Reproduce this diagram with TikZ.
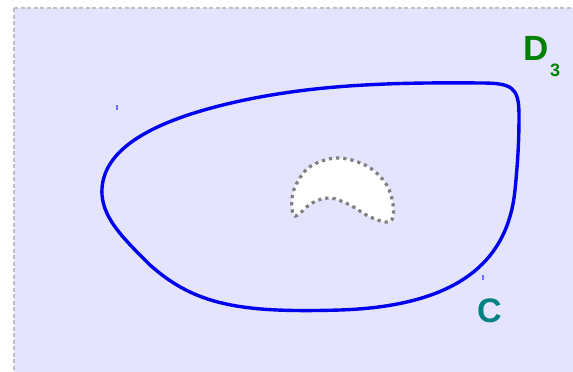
\documentclass[tikz,border=0pt]{standalone}
\usepackage{fontspec}
\setmainfont{Liberation Sans}
\usepackage{tikz}
\usetikzlibrary{calc}
\definecolor{regionbg}{HTML}{E4E4FF}
\definecolor{framegray}{HTML}{C0C0C0}
\definecolor{curveblue}{HTML}{0000F0}
\definecolor{tickblue}{HTML}{7070FF}
\definecolor{labgreen}{HTML}{008000}
\definecolor{labteal}{HTML}{008080}
\tikzstyle{region}=[fill=regionbg, draw=framegray, line width=1.2pt, dash pattern=on 4pt off 2.5pt]
\tikzstyle{boundary}=[draw=curveblue, line width=3.4pt]
\tikzstyle{hole}=[fill=white, draw=gray, line width=3.2pt, dash pattern=on 3.2pt off 4pt]
\tikzstyle{tick}=[draw=tickblue, line width=1.6pt]
\tikzstyle{lab}=[inner sep=0pt, anchor=base west, font=\bfseries]

\begin{document}
\begin{tikzpicture}[x=1pt, y=-1pt]
			\useasboundingbox (0,0) rectangle (573,372);
			\path[region] (14,8) rectangle (580,380);
			% outer curve C
			\draw[boundary] (102,195) .. controls (100,160) and (130,125) .. (240,101)
				.. controls (310,86) and (380,82) .. (480,83)
				.. controls (512,83) and (519,87) .. (519,115)
				.. controls (519,140) and (518,160) .. (515,190)
				.. controls (508,260) and (460,306) .. (340,310)
				.. controls (240,313) and (195,305) .. (150,265)
				.. controls (125,240) and (104,220) .. cycle;
			% hole
			\draw[hole] plot[smooth cycle, tension=0.6] coordinates {
				(295,216) (292,198) (298,181) (311,166) (337,158) (365,165)
				(384,181) (392,199) (393,217) (386,222) (368,216) (350,205)
				(330,198) (312,203)};
			\draw[tick] (117,105) -- (117,109.5);
			\draw[tick] (483,275) -- (483,279.5);
			\node[lab, text=labgreen, font=\fontsize{35}{35}\selectfont\bfseries] (labelD) at (523,60) {D};
			\node[lab, text=labgreen, font=\fontsize{18}{18}\selectfont\bfseries] (labelDsub) at (550,76.5) {3};
			\node[lab, text=labteal, font=\fontsize{34}{34}\selectfont\bfseries] (labelC) at (477,322) {C};
		\end{tikzpicture}
\end{document}
